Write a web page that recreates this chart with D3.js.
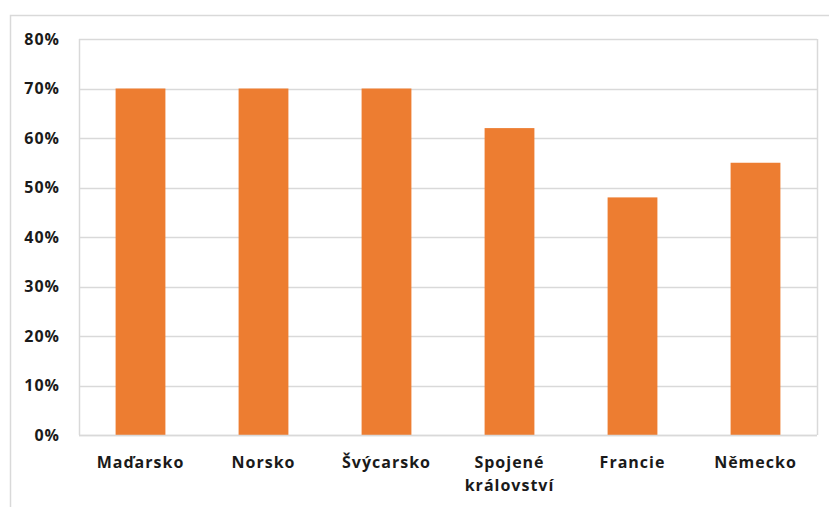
<!DOCTYPE html>
<html>
<head>
<meta charset="utf-8">
<script src="https://cdn.jsdelivr.net/npm/d3@7"></script>
<style>
  html, body { margin: 0; padding: 0; background: #fff; }
  svg { display: block; }
</style>
</head>
<body>
<svg id="chart" width="829" height="507"></svg>
<script>
// Share by country
const categories = ["Maďarsko", "Norsko", "Švýcarsko", "Spojené království", "Francie", "Německo"];
const labelLines = [["Maďarsko"], ["Norsko"], ["Švýcarsko"], ["Spojené", "království"], ["Francie"], ["Německo"]];
const values = [0.70, 0.70, 0.70, 0.62, 0.48, 0.55];
const tickValues = [0, 0.1, 0.2, 0.3, 0.4, 0.5, 0.6, 0.7, 0.8];

const FONT = "'Open Sans', Lato, sans-serif";
const svg = d3.select("#chart");
const plot = { left: 79, top: 39, right: 817, bottom: 435 };

// Outer chart frame
svg.append("rect")
  .attr("x", 10.5).attr("y", 15.5)
  .attr("width", 840).attr("height", 520)
  .attr("fill", "#fff").attr("stroke", "#d9d9d9").attr("stroke-width", 1.5);

const x = d3.scaleBand()
  .domain(categories)
  .range([plot.left, plot.right])
  .paddingInner(0.595)
  .paddingOuter(0.2975);

const y = d3.scaleLinear()
  .domain([0, 0.8])
  .range([plot.bottom, plot.top]);

// Horizontal gridlines
svg.append("g")
  .selectAll("line")
  .data(tickValues)
  .join("line")
  .attr("x1", plot.left).attr("x2", plot.right)
  .attr("y1", d => Math.round(y(d)) + 0.5).attr("y2", d => Math.round(y(d)) + 0.5)
  .attr("stroke", "#d9d9d9").attr("stroke-width", 1.5);

// Plot area left and right edges
[plot.left, plot.right].forEach(px => {
  svg.append("line")
    .attr("x1", px + 0.5).attr("x2", px + 0.5)
    .attr("y1", plot.top).attr("y2", plot.bottom)
    .attr("stroke", "#d9d9d9").attr("stroke-width", 1.5);
});

// Bars
svg.append("g")
  .selectAll("rect")
  .data(values)
  .join("rect")
  .attr("x", (d, i) => x(categories[i]))
  .attr("width", x.bandwidth())
  .attr("y", d => y(d))
  .attr("height", d => y(0) - y(d))
  .attr("fill", "#ed7d31");

// Y axis
const yAxis = d3.axisLeft(y)
  .tickValues(tickValues)
  .tickFormat(d3.format(".0%"))
  .tickSize(0)
  .tickPadding(19);

const yg = svg.append("g")
  .attr("transform", `translate(${plot.left},0)`)
  .call(yAxis);
yg.select(".domain").remove();
yg.selectAll("text").attr("font-size", 16).attr("fill", "#1a1a1a")
  .style("font-family", FONT).style("font-weight", "bold")
  .style("letter-spacing", "1px");

// X axis
const xAxis = d3.axisBottom(x).tickSize(0).tickFormat(() => "");
const xg = svg.append("g")
  .attr("transform", `translate(0,${plot.bottom})`)
  .call(xAxis);
xg.select(".domain").attr("stroke", "#d9d9d9").attr("stroke-width", 1.5)
  .attr("d", `M${plot.left},0.5H${plot.right}`);

xg.selectAll(".tick").each(function (d, i) {
  const t = d3.select(this).append("text")
    .attr("text-anchor", "middle")
    .attr("font-size", 16)
    .attr("fill", "#1a1a1a")
    .style("font-family", FONT)
    .style("font-weight", "bold")
    .style("letter-spacing", "1px");
  labelLines[i].forEach((line, k) => {
    t.append("tspan").attr("x", 0).attr("y", 33 + k * 23).text(line);
  });
});
</script>
</body>
</html>
